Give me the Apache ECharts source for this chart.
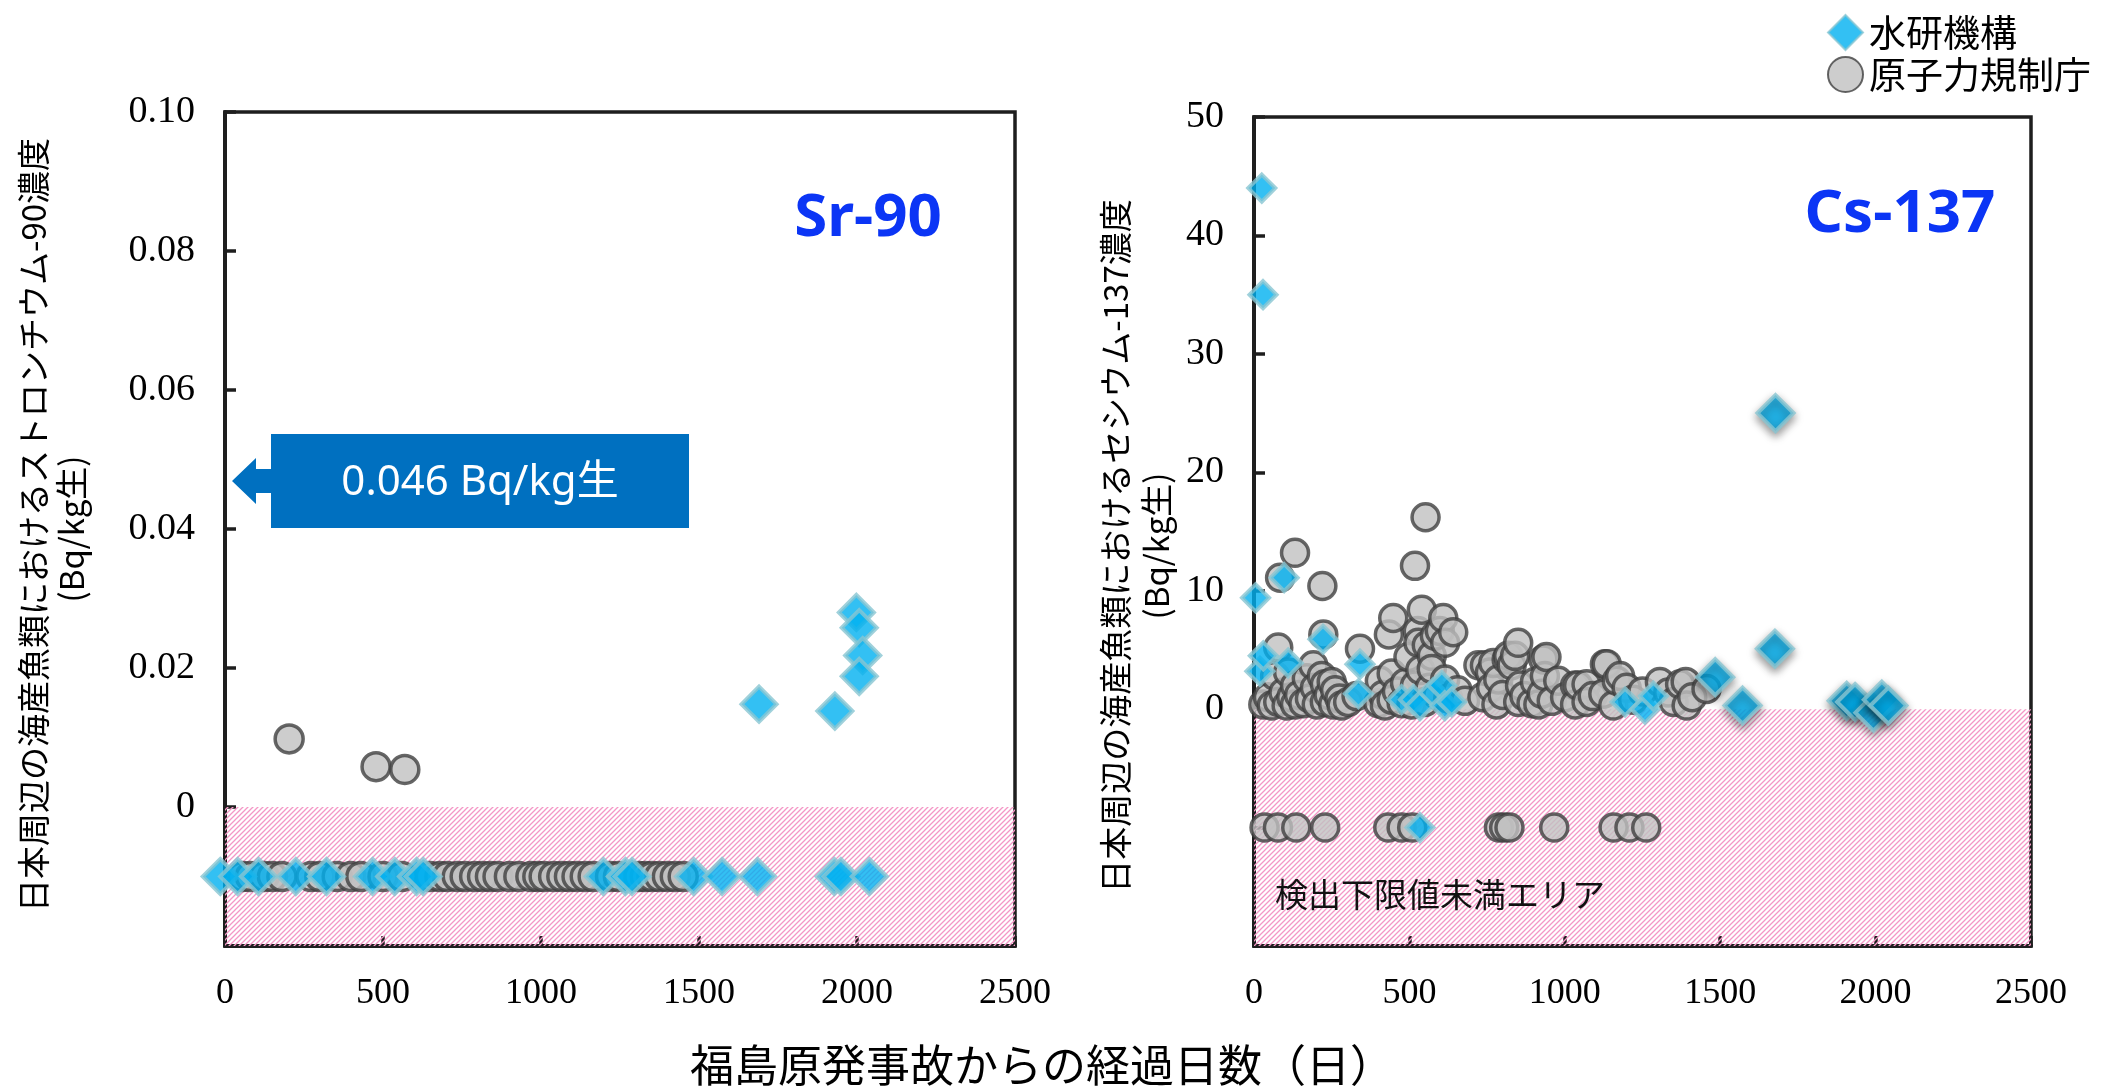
<!DOCTYPE html>
<html><head><meta charset="utf-8">
<script src="https://cdn.jsdelivr.net/npm/echarts@6/dist/echarts.min.js"></script>
<style>html,body{margin:0;padding:0;background:#fff;}#c{width:2127px;height:1091px;}</style>
</head><body><div id="c"></div>
<script>
// ---------- data ----------
const seriesNames = ['水研機構', '原子力規制庁'];
const xTickLabels = ['0', '500', '1000', '1500', '2000', '2500'];
const srYTickLabels = ['0', '0.02', '0.04', '0.06', '0.08', '0.10'];
const csYTickLabels = ['0', '10', '20', '30', '40', '50'];

// Sr-90 (Bq/kg生)
const srNDLevel = -0.01;   // plotted level for below-detection-limit results
const srAgencyDetected = [[1690, 0.0148], [1930, 0.0138], [1998, 0.028], [2007, 0.0258], [2018, 0.0218], [2007, 0.0188]];
const srAgencyNDDays = [-15, 40, 106, 224, 321, 467, 537, 606, 627, 1197, 1267, 1288, 1483, 1573, 1685, 1928, 1949, 2039];
const srNraDetected = [[203, 0.0098], [478, 0.0058], [569, 0.0054]];
const srNraNDDays = [55, 80, 124, 150, 180, 272, 300, 355, 398, 430, 500, 560, 650, 680, 704, 735, 760, 790, 815, 840, 864, 900, 930, 968, 990, 1010, 1040, 1066, 1090, 1114, 1140, 1165, 1220, 1245, 1310, 1330, 1351, 1375, 1400, 1425, 1450];

// Cs-137 (Bq/kg生)
const csNDLevel = -10;
const csAgencyDetected = [[5, 9.4], [19, 3.2], [25, 44], [29, 35], [30, 4.5], [97, 11.1], [110, 3.9], [222, 5.9], [336, 1.3], [341, 3.8], [475, 0.8], [513, 0.8], [534, 0.3], [577, 1.4], [604, 2.0], [614, 0.3], [636, 0.6], [1194, 0.6], [1258, 0.0], [1285, 1.1], [1484, 2.7], [1572, 0.3], [1676, 5.1], [1678, 25], [1907, 0.7], [1934, 0.6], [1993, -0.3], [2020, 0.8], [2041, 0.3]];
const csAgencyNDDays = [534];
const csNraDetected = [
  [30, 0.4], [45, 1.0], [57, 0.3], [68, 2.8], [78, 5.2], [78, 0.6], [84, 11.1], [95, 1.4], [105, 0.3], [110, 3.1], [120, 1.0], [132, 13.2], [132, 2.0], [132, 0.4], [145, 1.2], [159, 0.5], [170, 2.6], [180, 0.9], [191, 3.7], [196, 1.8], [202, 0.4], [218, 2.8], [220, 10.4], [223, 6.3], [228, 2.1], [228, 0.6], [240, 1.2], [250, 2.3], [255, 0.4], [261, 1.6], [275, 0.9], [282, 0.3], [303, 0.6], [330, 1.1], [341, 5.1],
  [400, 0.5], [405, 2.4], [415, 1.2], [421, 0.3], [434, 6.3], [443, 3.0], [443, 0.8], [448, 7.7], [460, 1.5], [475, 0.5], [486, 2.2], [497, 4.4], [507, 0.4], [518, 12.1], [518, 2.0], [527, 6.6], [529, 5.6], [535, 3.3], [540, 8.4], [550, 0.6], [552, 16.2], [556, 5.4], [565, 1.8], [572, 4.5], [572, 3.4], [582, 6.2], [590, 1.2], [598, 6.6], [609, 7.7], [615, 5.6], [615, 2.5], [625, 0.9], [641, 6.5], [655, 1.6], [679, 0.7],
  [722, 3.7], [735, 1.0], [743, 3.7], [759, 3.1], [763, 1.8], [770, 3.9], [780, 0.4], [786, 2.5], [800, 1.2], [813, 4.2], [818, 4.5], [829, 3.7], [840, 4.5], [850, 5.6], [850, 0.6], [856, 2.0], [870, 1.1], [893, 0.5], [904, 2.3], [915, 0.4], [926, 1.3], [931, 4.2], [936, 2.8], [941, 4.4], [958, 0.7], [979, 2.4], [1001, 1.0], [1033, 2.0], [1033, 0.4], [1043, 2.0],
  [1070, 2.1], [1070, 0.6], [1090, 1.1], [1124, 1.3], [1129, 3.8], [1135, 3.8], [1156, 0.3], [1167, 2.4], [1178, 2.8], [1199, 1.8], [1220, 0.8], [1250, 1.5], [1306, 2.3], [1333, 1.4], [1350, 0.6], [1371, 2.1], [1389, 2.3], [1392, 0.3], [1410, 1.0], [1456, 1.7]
];
const csNraNDDays = [34, 77, 136, 229, 432, 475, 509, 788, 805, 822, 966, 1157, 1208, 1262];

// ---------- build ----------
const chart = echarts.init(document.getElementById('c'), null, {renderer: 'canvas'});

function hatch() {
  const c = document.createElement('canvas');
  c.width = 5; c.height = 5;
  const g = c.getContext('2d');
  g.strokeStyle = '#f497c6';
  g.lineWidth = 1.3;
  g.beginPath();
  g.moveTo(-1, 6); g.lineTo(6, -1);
  g.moveTo(-3.5, 3.5); g.lineTo(3.5, -3.5);
  g.moveTo(1.5, 8.5); g.lineTo(8.5, 1.5);
  g.stroke();
  return c;
}
const pinkPattern = {image: hatch(), repeat: 'repeat'};

const diamondStyle = {color: '#00b0f0', borderColor: '#88c6d2', borderWidth: 4};
const circleStyle = {color: '#c0c0c0', borderColor: '#404040', borderWidth: 3.5};
const axisColor = '#1e1e1e';
const labelFont = 'Liberation Serif';
const cjk = '"Noto Sans CJK JP", "Noto Sans", sans-serif';

function xAxisOf(grid) {
  return {
    type: 'value', gridIndex: grid, min: 0, max: 2500, interval: 500,
    axisLine: {show: true, onZero: false, lineStyle: {color: axisColor, width: 4}},
    axisTick: {show: true, inside: true, length: 10, lineStyle: {color: axisColor, width: 3.5}},
    splitLine: {show: false},
    axisLabel: {margin: 30, fontFamily: labelFont, fontSize: 36, color: '#000',
      formatter: v => xTickLabels[Math.round(v / 500)] ?? ''}
  };
}
function yAxisOf(grid, min, max, step, labels) {
  return {
    type: 'value', gridIndex: grid, min: min, max: max, interval: step,
    axisLine: {show: true, onZero: false, lineStyle: {color: axisColor, width: 4}},
    axisTick: {show: true, inside: true, length: 11, lineStyle: {color: axisColor, width: 3.5}},
    splitLine: {show: false},
    axisLabel: {margin: 30, fontFamily: labelFont, fontSize: 38, color: '#000',
      formatter: v => { const i = Math.round(v / step); return i < 0 ? '' : (labels[i] ?? ''); }}
  };
}

const srDiamonds = srAgencyDetected.concat(srAgencyNDDays.map(d => [d, srNDLevel]));
const srCircles = srNraDetected.concat(srNraNDDays.map(d => [d, srNDLevel]));
const csCircles = csNraDetected.concat(csNraNDDays.map(d => [d, csNDLevel]));
const csDiamonds = csAgencyDetected.concat(csAgencyNDDays.map(d => [d, csNDLevel])).map(p => {
  const late = p[0] > 1400;
  return {value: p, symbolSize: late ? 36 : 27,
    itemStyle: late ? {shadowBlur: 8, shadowColor: 'rgba(0,0,0,0.45)', shadowOffsetY: 4} : {}};
});

const option = {
  backgroundColor: '#fff',
  animation: false,
  grid: [
    {left: 225, top: 112, width: 790, height: 834, show: true, borderColor: axisColor, borderWidth: 3.5, backgroundColor: 'transparent'},
    {left: 1254, top: 117, width: 777, height: 829, show: true, borderColor: axisColor, borderWidth: 3.5, backgroundColor: 'transparent'}
  ],
  xAxis: [xAxisOf(0), xAxisOf(1)],
  yAxis: [yAxisOf(0, -0.02, 0.10, 0.02, srYTickLabels), yAxisOf(1, -20, 50, 10, csYTickLabels)],
  legend: {
    data: seriesNames, orient: 'vertical', left: 1822, top: 9,
    itemWidth: 35, itemHeight: 35, itemGap: 5,
    textStyle: {fontFamily: cjk, fontSize: 37, color: '#000', padding: [0, 0, 0, 1]},
    selectedMode: false
  },
  series: [
    {type: 'scatter', xAxisIndex: 0, yAxisIndex: 0, data: [], silent: true,
      markArea: {silent: true, itemStyle: {color: pinkPattern}, label: {show: false},
        data: [[{yAxis: -0.02}, {yAxis: 0}]]}},
    {type: 'scatter', xAxisIndex: 1, yAxisIndex: 1, data: [], silent: true,
      markArea: {silent: true, itemStyle: {color: pinkPattern}, label: {show: false},
        data: [[{yAxis: -20}, {yAxis: 0}]]}},
    {name: seriesNames[1], type: 'scatter', xAxisIndex: 0, yAxisIndex: 0, z: 3, clip: false,
      symbol: 'circle', symbolSize: 28, itemStyle: circleStyle, data: srCircles},
    {name: seriesNames[0], type: 'scatter', xAxisIndex: 0, yAxisIndex: 0, z: 4, clip: false,
      symbol: 'diamond', symbolSize: 35, itemStyle: diamondStyle, data: srDiamonds},
    {name: seriesNames[1], type: 'scatter', xAxisIndex: 1, yAxisIndex: 1, z: 3, clip: false,
      symbol: 'circle', symbolSize: 27, itemStyle: circleStyle, data: csCircles},
    {name: seriesNames[0], type: 'scatter', xAxisIndex: 1, yAxisIndex: 1, z: 4, clip: false,
      symbol: 'diamond', itemStyle: diamondStyle, data: csDiamonds}
  ],
  graphic: [
    // y-axis titles
    {type: 'text', x: 33, y: 525, rotation: Math.PI / 2,
      style: {text: '日本周辺の海産魚類におけるストロンチウム-90濃度', font: '33px ' + cjk, fill: '#000', textAlign: 'center', textVerticalAlign: 'middle'}},
    {type: 'text', x: 71, y: 529, rotation: Math.PI / 2,
      style: {text: '(Bq/kg生)', font: '33px ' + cjk, fill: '#000', textAlign: 'center', textVerticalAlign: 'middle'}},
    {type: 'text', x: 1115, y: 546, rotation: Math.PI / 2,
      style: {text: '日本周辺の海産魚類におけるセシウム-137濃度', font: '33px ' + cjk, fill: '#000', textAlign: 'center', textVerticalAlign: 'middle'}},
    {type: 'text', x: 1156, y: 546, rotation: Math.PI / 2,
      style: {text: '(Bq/kg生)', font: '33px ' + cjk, fill: '#000', textAlign: 'center', textVerticalAlign: 'middle'}},
    // x-axis title
    {type: 'text', x: 1042, y: 1065,
      style: {text: '福島原発事故からの経過日数（日）', font: '44px ' + cjk, fill: '#000', textAlign: 'center', textVerticalAlign: 'middle'}},
    // nuclide titles
    {type: 'text', x: 868, y: 219, z: 10,
      style: {text: 'Sr-90', font: 'bold 60px "Noto Sans", sans-serif', fill: '#0b35f5', textAlign: 'center', textVerticalAlign: 'middle'}},
    {type: 'text', x: 1900, y: 215, z: 10,
      style: {text: 'Cs-137', font: 'bold 60px "Noto Sans", sans-serif', fill: '#0b35f5', textAlign: 'center', textVerticalAlign: 'middle'}},
    // below detection limit note
    {type: 'text', x: 1275, y: 894, z: 10,
      style: {text: '検出下限値未満エリア', font: '33px ' + cjk, fill: '#111', textAlign: 'left', textVerticalAlign: 'middle'}},
    // callout
    {type: 'polygon', z: 10,
      shape: {points: [[232, 481], [256, 458], [256, 469], [271, 469], [271, 434], [689, 434], [689, 528], [271, 528], [271, 493], [256, 493], [256, 504]]},
      style: {fill: '#0070c0'}},
    {type: 'text', x: 480, y: 483, z: 11,
      style: {text: '0.046 Bq/kg生', font: '42px "Noto Sans", "Noto Sans CJK JP", sans-serif', fill: '#fff', textAlign: 'center', textVerticalAlign: 'middle'}}
  ]
};
chart.setOption(option);
</script></body></html>
